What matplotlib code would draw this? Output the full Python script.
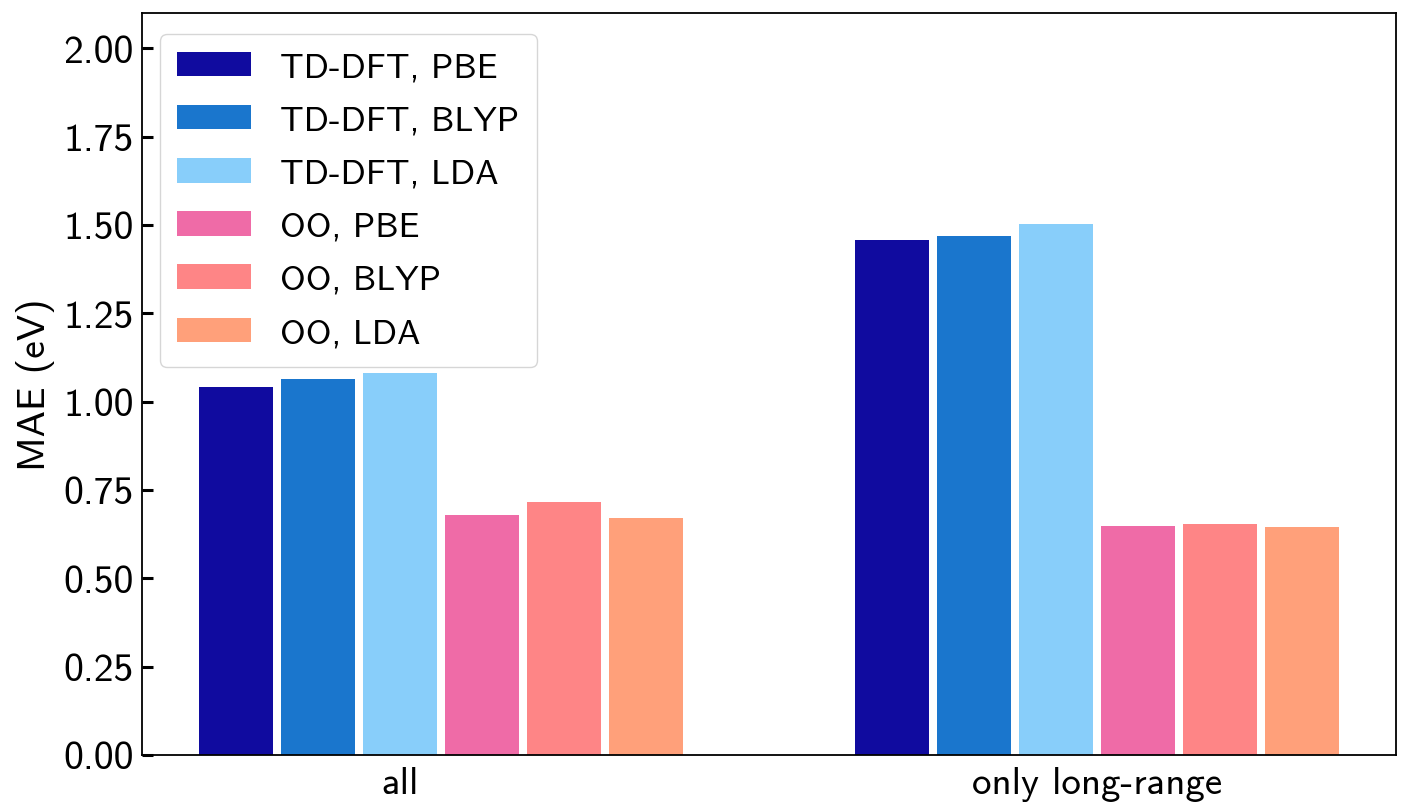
import matplotlib
matplotlib.use("Agg")
import matplotlib.pyplot as plt
import numpy as np

plt.rcParams['font.family'] = ['cmss10', 'DejaVu Sans']
plt.rcParams['axes.unicode_minus'] = False
plt.rcParams['axes.formatter.use_mathtext'] = True

categories = ["all", "only long-range"]
series_labels = ["TD-DFT, PBE", "TD-DFT, BLYP", "TD-DFT, LDA",
                 "OO, PBE", "OO, BLYP", "OO, LDA"]
td_pbe = [1.042, 1.457]
td_blyp = [1.065, 1.468]
td_lda = [1.082, 1.503]
oo_pbe = [0.680, 0.647]
oo_blyp = [0.716, 0.653]
oo_lda = [0.671, 0.644]
series_values = [td_pbe, td_blyp, td_lda, oo_pbe, oo_blyp, oo_lda]
colors = ["#100b9f", "#1a76cd", "#88cefa", "#ef6ba7", "#fe8586", "#ffa07a"]
yticks = [0.00, 0.25, 0.50, 0.75, 1.00, 1.25, 1.50, 1.75, 2.00]

fig = plt.figure(figsize=(14.12, 8.12), dpi=100)
ax = fig.add_axes([0.1006, 0.069, 0.8881, 0.9138])

x = np.arange(len(categories))
w = 0.125
for j, (vals, lab, c) in enumerate(zip(series_values, series_labels, colors)):
    ax.bar(x + j * w, vals, width=0.9 * w, color=c, label=lab)

# tick label positions as placed in the original figure
tick_offsets = [2.0, 2.5]
ax.set_xticks(x + np.array(tick_offsets) * w)
ax.set_xticklabels(categories, fontsize=28)
ax.set_ylim(0, 2.1)
ax.set_yticks(yticks)
ax.set_yticklabels([f"{v:.2f}" for v in yticks], fontsize=28.5)
ax.set_ylabel("MAE (eV)", fontsize=28.5, labelpad=6)
ax.tick_params(axis='x', length=0, pad=8)
ax.tick_params(axis='y', direction='in', length=8, width=2.2, pad=6)
for s in ax.spines.values():
    s.set_linewidth(1.3)

ax.legend(loc='upper left', fontsize=25.2, handlelength=2.1, handletextpad=0.85,
          labelspacing=0.62, borderpad=0.5, bbox_to_anchor=(0.0, 0.995))

fig.savefig("out.png", dpi=100)
